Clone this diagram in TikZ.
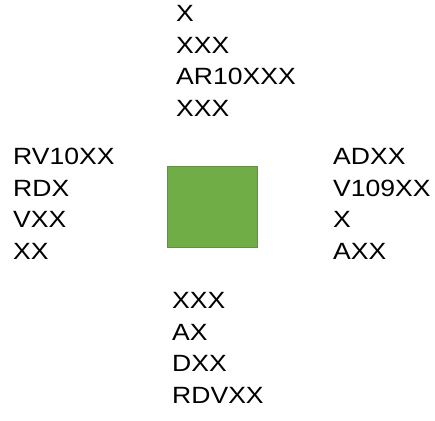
\documentclass[tikz,border=0pt]{standalone}
\usepackage{fontspec}
\setmainfont[FakeStretch=1.13]{Liberation Sans}
\usepackage{tikz}
\definecolor{boxgreen}{HTML}{70AD47}
\definecolor{boxedge}{HTML}{5E9140}

\begin{document}
\begin{tikzpicture}[x=1pt, y=-1pt,
    label/.style={anchor=north west, inner sep=0pt, align=left, font=\fontsize{23.5}{31.5}\selectfont},
    square/.style={draw=boxedge, fill=boxgreen, line width=0.8pt, inner sep=0pt}
]
\useasboundingbox (0,0) rectangle (435,420);

% Centre square
\node[square, minimum width=90pt, minimum height=81pt] (sq) at (212,206.5) {};

% Top labels
\node[label] (top) at (176,5.2) {X\\XXX\\AR10XXX\\XXX};

% Left labels
\node[label] (left) at (13,148.2) {RV10XX\\RDX\\VXX\\XX};

% Right labels
\node[label] (right) at (333,148.2) {ADXX\\V109XX\\X\\AXX};

% Bottom labels
\node[label] (bottom) at (172,292.2) {XXX\\AX\\DXX\\RDVXX};

\end{tikzpicture}
\end{document}
